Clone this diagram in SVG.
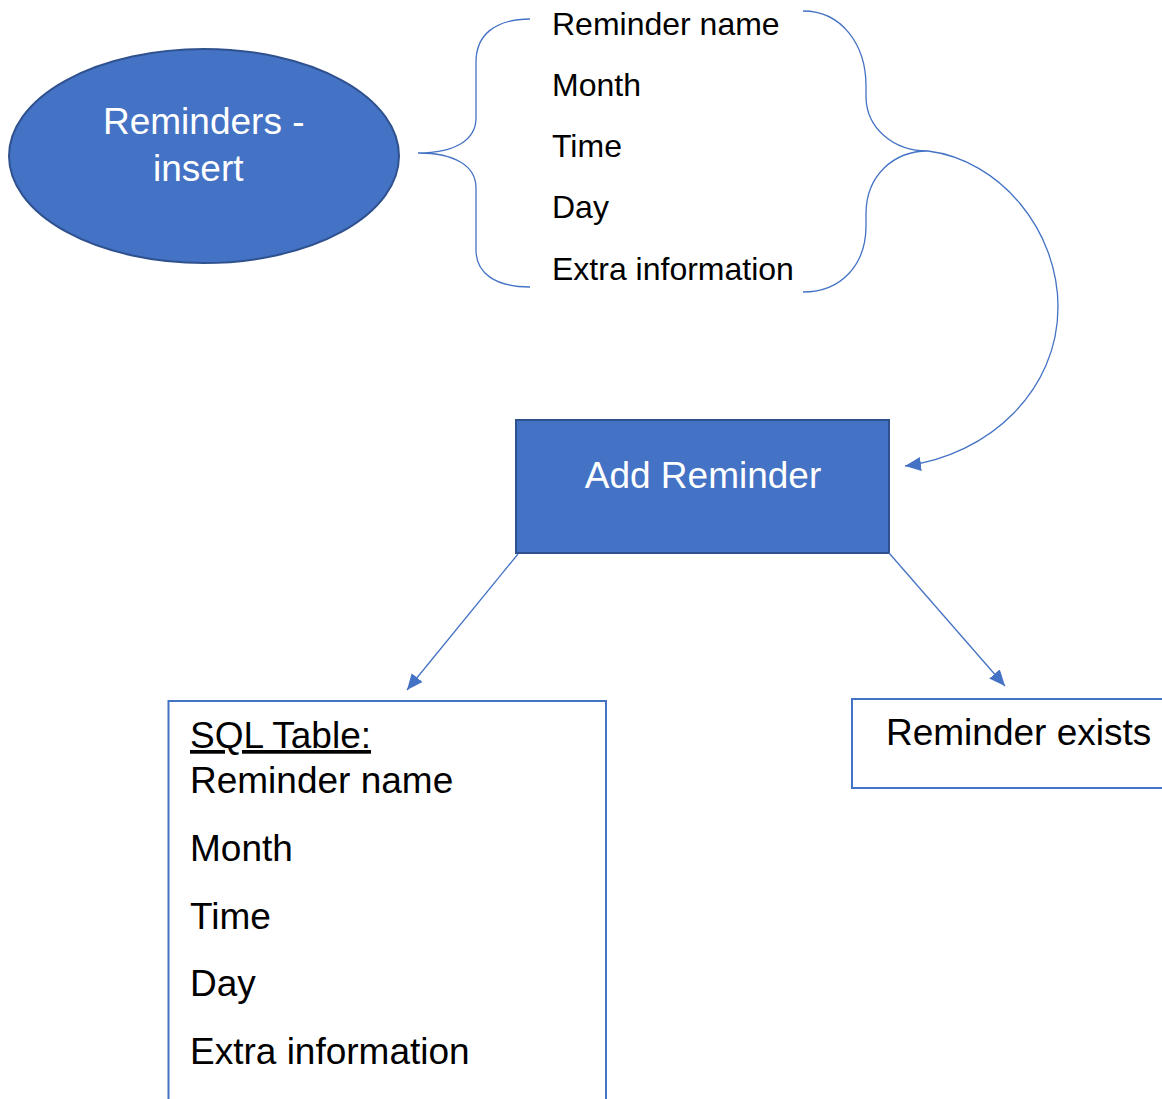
<svg xmlns="http://www.w3.org/2000/svg" width="1162" height="1099" viewBox="0 0 1162 1099">
  <style>
    .txt { font-family: "Liberation Sans", Arial, sans-serif; }
    .light { fill: #ffffff; font-size: 37px; }
    .dark { fill: #000000; }
    .shape { fill: #4472C4; stroke: #2F528F; stroke-width: 2; }
    .box { fill: #ffffff; stroke: #4472C4; stroke-width: 2; }
    .link { fill: none; stroke: #4472C4; stroke-width: 1.3; }
  </style>
  <defs>
    <marker id="arrow" markerUnits="userSpaceOnUse" markerWidth="18" markerHeight="16" refX="16" refY="7" orient="auto">
      <path d="M0,0 L16,7 L0,14 z" fill="#4472C4"/>
    </marker>
  </defs>
  <rect width="1162" height="1099" fill="#ffffff"/>

  <g id="reminders-insert">
    <ellipse class="shape" cx="204" cy="156" rx="195" ry="107"/>
    <text class="txt light" x="103" y="134">Reminders -</text>
    <text class="txt light" x="153" y="181">insert</text>
  </g>

  <g id="fields">
    <path class="link" d="M 530 19 C 495 19, 476 35, 476 62 L 476 118 C 476 140, 455 153, 418 153 C 455 153, 476 166, 476 188 L 476 250 C 476 273, 495 287, 530 287"/>
    <path class="link" d="M 803 11 C 842 11, 866 45, 866 86 L 866 96 C 866 128, 893 151, 928 151 C 893 151, 866 176, 866 214 L 866 226 C 866 264, 842 292, 803 292"/>
    <text class="txt dark" font-size="32" x="552" y="35">Reminder name</text>
    <text class="txt dark" font-size="32" x="552" y="96">Month</text>
    <text class="txt dark" font-size="32" x="552" y="157">Time</text>
    <text class="txt dark" font-size="32" x="552" y="218">Day</text>
    <text class="txt dark" font-size="32" x="552" y="280">Extra information</text>
  </g>

  <g id="add-reminder">
    <rect class="shape" x="516" y="420" width="373" height="133"/>
    <text class="txt light" x="703" y="488" text-anchor="middle">Add Reminder</text>
  </g>

  <g id="sql-table">
    <rect class="box" x="168.5" y="701" width="437.5" height="430"/>
    <text class="txt dark" font-size="37" x="190" y="748" text-decoration="underline">SQL Table:</text>
    <text class="txt dark" font-size="37" x="190" y="793">Reminder name</text>
    <text class="txt dark" font-size="37" x="190" y="861">Month</text>
    <text class="txt dark" font-size="37" x="190" y="929">Time</text>
    <text class="txt dark" font-size="37" x="190" y="996">Day</text>
    <text class="txt dark" font-size="37" x="190" y="1064">Extra information</text>
  </g>

  <g id="reminder-exists">
    <rect class="box" x="852" y="699" width="340" height="89"/>
    <text class="txt dark" font-size="37" x="886" y="745">Reminder exists</text>
  </g>

  <g id="connectors">
    <path class="link" marker-end="url(#arrow)" d="M 928 151 C 1000 160, 1058 230, 1058 307 C 1058 390, 990 455, 905 466"/>
    <line class="link" marker-end="url(#arrow)" x1="518" y1="554" x2="407" y2="690"/>
    <line class="link" marker-end="url(#arrow)" x1="889" y1="553" x2="1005" y2="686"/>
  </g>
</svg>
